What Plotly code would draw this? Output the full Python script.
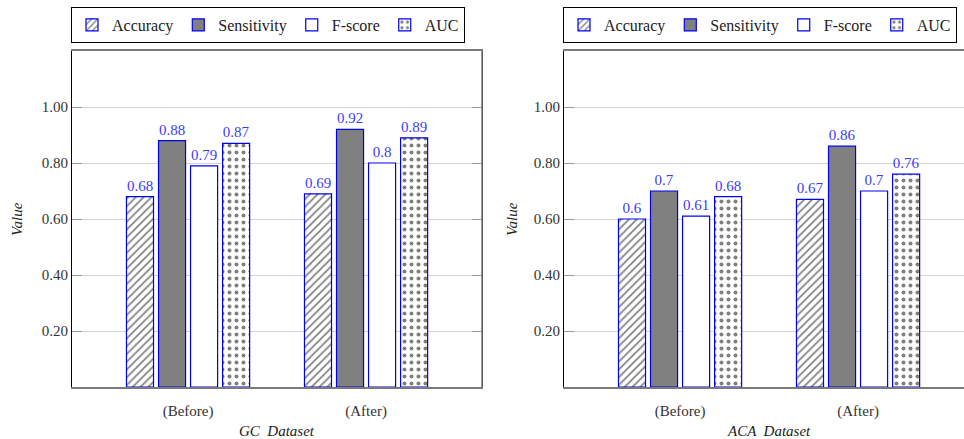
import plotly.graph_objects as go

# Data
groups = ["(Before)", "(After)"]
metrics = ["Accuracy", "Sensitivity", "F-score", "AUC"]
gc_values = {
    "Accuracy": [0.68, 0.69],
    "Sensitivity": [0.88, 0.92],
    "F-score": [0.79, 0.8],
    "AUC": [0.87, 0.89],
}
aca_values = {
    "Accuracy": [0.6, 0.67],
    "Sensitivity": [0.7, 0.86],
    "F-score": [0.61, 0.7],
    "AUC": [0.68, 0.76],
}
y_ticks = [0.2, 0.4, 0.6, 0.8, 1.0]

W, H = 964, 439
FONT = "Liberation Serif"
BLUE = "#0000f0"
LABEL_BLUE = "#3c3cff"

styles = {
    "Accuracy": dict(color="white", pattern=dict(shape="/", fgcolor="black", bgcolor="white",
                                                  size=5.5, solidity=0.3, fillmode="overlay")),
    "Sensitivity": dict(color="#808080"),
    "F-score": dict(color="white"),
    "AUC": dict(color="white", pattern=dict(shape=".", fgcolor="black", bgcolor="white",
                                             size=7, solidity=0.26, fillmode="overlay")),
}

fig = go.Figure()

panels = [
    (gc_values, "x", "y", "legend"),
    (aca_values, "x2", "y2", "legend2"),
]
for vals, xa, ya, lg in panels:
    for m in metrics:
        st = styles[m]
        fig.add_trace(go.Bar(
            x=groups, y=vals[m], name=m, xaxis=xa, yaxis=ya, legend=lg,
            marker=dict(color=st["color"], pattern=st.get("pattern"),
                        line=dict(color=BLUE, width=1.2)),
            text=[f"{v:g}" for v in vals[m]], texttemplate="%{text}", textposition="outside",
            textfont=dict(family=FONT, size=15, color=LABEL_BLUE),
            cliponaxis=False,
        ))

# panel geometry in pixels
L1, R1 = 72, 482
L2, R2 = 564, 964
TOP, BOT = 51, 387
unit_px = 178.0
x0 = -0.652
yd = [(H - BOT) / H, (H - TOP) / H]

common_y = dict(range=[0, 1.2], tickvals=y_ticks, ticktext=[f"{v:.2f}" for v in y_ticks],
                showgrid=True, gridcolor="#d4d4d4", gridwidth=1,
                ticks="inside", ticklen=10, tickcolor="#999999",
                showline=True, linecolor="black", linewidth=1,
                tickfont=dict(family=FONT, size=15, color="#333333"),
                zeroline=False, domain=yd, fixedrange=True, ticklabelstandoff=0)
common_x = dict(type="category", showgrid=False, ticks="", showline=True,
                linecolor="#7a7a7a", linewidth=2, mirror=True,
                tickfont=dict(family=FONT, size=15, color="#333333"),
                ticklabelstandoff=9, zeroline=False)

legend_common = dict(y=1 - 7 / H, xanchor="left", yanchor="top", orientation="h",
                     bordercolor="black", borderwidth=1, bgcolor="white",
                     font=dict(family=FONT, size=16, color="#222222"),
                     itemwidth=30, tracegroupgap=0)

fig.update_layout(
    width=W, height=H, margin=dict(l=0, r=0, t=0, b=0),
    paper_bgcolor="white", plot_bgcolor="white",
    barmode="group", bargap=0.28, bargroupgap=0.156,
    font=dict(family=FONT, size=15, color="#222222"),
    xaxis=dict(domain=[L1 / W, R1 / W], range=[x0, x0 + (R1 - L1) / unit_px], anchor="y", **common_x),
    yaxis=dict(anchor="x", mirror="ticks", **common_y),
    xaxis2=dict(domain=[L2 / W, 1.0], range=[x0, x0 + (R2 - L2) / unit_px], anchor="y2", **common_x),
    yaxis2=dict(anchor="x2", **common_y),
    legend=dict(x=71 / W, **legend_common),
    legend2=dict(x=563 / W, **legend_common),
    showlegend=True,
)

# gray right spine of the first panel, axis titles
fig.add_shape(type="line", xref="x domain", yref="y domain", x0=1, x1=1, y0=0, y1=1,
              line=dict(color="#7a7a7a", width=1.5))
for xc, title in [((L1 + R1) / 2, "GC  Dataset"), ((L2 + L2 + 410) / 2, "ACA  Dataset")]:
    fig.add_annotation(x=xc / W, y=1 - 431 / H, xref="paper", yref="paper",
                       xanchor="center", yanchor="middle",
                       text=f"<i>{title}</i>", showarrow=False,
                       font=dict(family=FONT, size=15, color="#222222"))
for xv in [17, 512]:
    fig.add_annotation(x=xv / W, y=1 - 219 / H, xref="paper", yref="paper",
                       xanchor="center", yanchor="middle",
                       text="<i>Value</i>", showarrow=False, textangle=-90,
                       font=dict(family=FONT, size=15, color="#222222"))

fig.write_html("out.html")
